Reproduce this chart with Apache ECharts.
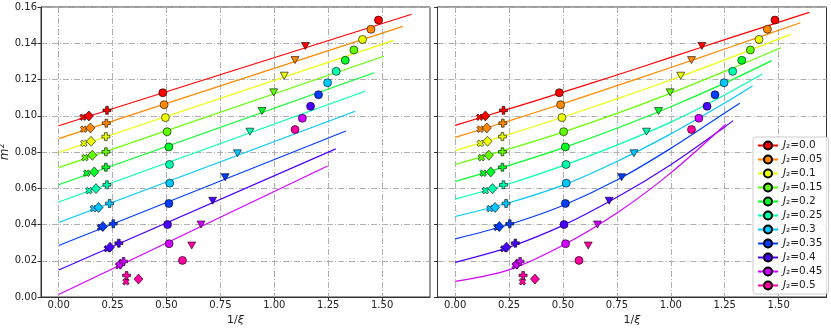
<!DOCTYPE html>
<html>
<head>
<meta charset="utf-8">
<script src="https://cdn.jsdelivr.net/npm/echarts@6/dist/echarts.min.js"></script>
<style>
html, body { margin: 0; padding: 0; background: #fff; }
#chart { width: 831px; height: 328px; }
</style>
</head>
<body>
<div id="chart"></div>
<script>
// J2 values and hsv colours
var j2 = ['0.0', '0.05', '0.1', '0.15', '0.2', '0.25', '0.3', '0.35', '0.4', '0.45', '0.5'];
var colors = ['#ff0000', '#ff8900', '#ecff00', '#63ff00', '#00ff26', '#00ffae',
              '#00c7ff', '#003dff', '#4b00ff', '#d400ff', '#ff00a1'];

// markers (1/xi, m^2), one entry per J2
var crossX = [0.113, 0.116, 0.117, 0.122, 0.130, 0.140, 0.161, 0.194, 0.225, 0.278, 0.312];
var crossY = [0.0992, 0.0926, 0.0848, 0.0769, 0.0683, 0.0587, 0.0488, 0.0384, 0.0266, 0.0172, 0.0084];
var diamX = [0.140, 0.147, 0.150, 0.156, 0.165, 0.173, 0.185, 0.205, 0.238, 0.286, 0.370];
var diamY = [0.0999, 0.0933, 0.0859, 0.0782, 0.0690, 0.0598, 0.0494, 0.0389, 0.0275, 0.0182, 0.0099];
var plusX = [0.224, 0.221, 0.219, 0.219, 0.219, 0.224, 0.236, 0.253, 0.279, 0.301, 0.315];
var plusY = [0.1030, 0.0959, 0.0885, 0.0801, 0.0716, 0.0619, 0.0516, 0.0404, 0.0297, 0.0196, 0.0119];
var circX = [0.483, 0.489, 0.495, 0.503, 0.511, 0.514, 0.515, 0.511, 0.505, 0.512, 0.574];
var circY = [0.1127, 0.1061, 0.0990, 0.0912, 0.0828, 0.0731, 0.0628, 0.0516, 0.0400, 0.0294, 0.0202];
var triX = [1.144, 1.096, 1.046, 0.997, 0.943, 0.887, 0.829, 0.772, 0.714, 0.660, 0.617];
var triY = [0.1385, 0.1307, 0.1221, 0.1129, 0.1026, 0.0912, 0.0793, 0.0661, 0.0531, 0.0400, 0.0284];
var farX = [1.483, 1.448, 1.409, 1.369, 1.329, 1.287, 1.247, 1.205, 1.168, 1.130, 1.096];
var farY = [0.1528, 0.1477, 0.1421, 0.1363, 0.1306, 0.1245, 0.1182, 0.1116, 0.1052, 0.0986, 0.0924];

// left panel: straight fits (J2 = 0 .. 0.45)
var lineEndX = [1.637, 1.596, 1.554, 1.508, 1.463, 1.421, 1.375, 1.332, 1.285, 1.247];
var leftY0 = [0.0945, 0.0874, 0.0797, 0.0714, 0.0619, 0.0524, 0.0411, 0.0284, 0.0149, 0.0014];
var leftY1 = [0.1560, 0.1493, 0.1416, 0.1328, 0.1237, 0.1135, 0.1025, 0.0916, 0.0817, 0.0723];

// right panel: curved fits read at these x, then the end point
var curveX = [0, 0.25, 0.5, 0.75, 1.0, 1.25];
var curveY = [
  [0.0947, 0.1038, 0.1130, 0.1225, 0.1322, 0.1420],
  [0.0881, 0.0972, 0.1067, 0.1166, 0.1266, 0.1368],
  [0.0808, 0.0897, 0.0993, 0.1093, 0.1197, 0.1308],
  [0.0731, 0.0817, 0.0910, 0.1013, 0.1125, 0.1245],
  [0.0637, 0.0726, 0.0823, 0.0931, 0.1050, 0.1180],
  [0.0540, 0.0625, 0.0725, 0.0838, 0.0965, 0.1115],
  [0.0444, 0.0520, 0.0617, 0.0748, 0.0900, 0.1070],
  [0.0321, 0.0400, 0.0505, 0.0645, 0.0820, 0.1015],
  [0.0191, 0.0275, 0.0395, 0.0550, 0.0730, 0.0938],
  [0.0086, 0.0150, 0.0285, 0.0463, 0.0685, 0.0948]
];
var curveEndX = [1.642, 1.601, 1.557, 1.511, 1.468, 1.424, 1.379, 1.320, 1.289, 1.255];
var curveEndY = [0.1570, 0.1513, 0.1449, 0.1375, 0.1304, 0.1230, 0.1164, 0.1069, 0.0973, 0.0953];

var xTicks = [0, 0.25, 0.5, 0.75, 1.0, 1.25, 1.5];

var plusPath = 'path://M2,0 L4,0 L4,2 L6,2 L6,4 L4,4 L4,6 L2,6 L2,4 L0,4 L0,2 L2,2 Z';
var font = 'DejaVu Sans';
var gridStyle = { color: '#b0b0b0', width: 1, type: [6, 2, 1, 2] };

function xAxisFor(g) {
  return {
    type: 'value', gridIndex: g, min: -0.082, max: 1.722,
    name: '{n|1/}{i|ξ}', nameLocation: 'middle', nameGap: 11,
    nameTextStyle: { rich: {
      n: { fontFamily: font, fontSize: 11, color: '#222' },
      i: { fontFamily: font, fontSize: 11, color: '#222', fontStyle: 'italic' }
    } },
    axisLine: { show: true, onZero: false, lineStyle: { color: '#333', width: 1 } },
    axisTick: { show: true, length: 3.5, customValues: xTicks, lineStyle: { color: '#333' } },
    axisLabel: { customValues: xTicks, margin: 3, fontFamily: font, fontSize: 10, color: '#222',
      formatter: function (v) { return v.toFixed(2); } },
    splitLine: { show: true, lineStyle: gridStyle }
  };
}

function yAxisFor(g, labels) {
  var ax = {
    type: 'value', gridIndex: g, min: 0, max: 0.16, interval: 0.02,
    axisLine: { show: true, onZero: false, lineStyle: { color: '#333', width: 1 } },
    axisTick: { show: true, length: 3.5, lineStyle: { color: '#333' } },
    axisLabel: { show: labels, margin: 4, fontFamily: font, fontSize: 10, color: '#222',
      formatter: function (v) { return v.toFixed(2); } },
    splitLine: { show: true, lineStyle: gridStyle }
  };
  if (labels) {
    ax.name = '{i|m}{n|²}';
    ax.nameLocation = 'middle';
    ax.nameGap = 22;
    ax.nameTextStyle = { rich: {
      i: { fontFamily: font, fontSize: 12, color: '#222', fontStyle: 'italic' },
      n: { fontFamily: font, fontSize: 12, color: '#222' }
    } };
  }
  return ax;
}

function markerData(i) {
  return [
    { value: [crossX[i], crossY[i]], symbol: plusPath, symbolSize: 7, symbolRotate: 45 },
    { value: [diamX[i], diamY[i]], symbol: 'diamond', symbolSize: [9, 10] },
    { value: [plusX[i], plusY[i]], symbol: plusPath, symbolSize: 8 },
    { value: [circX[i], circY[i]], symbol: 'circle', symbolSize: 8 },
    { value: [triX[i], triY[i]], symbol: 'triangle', symbolSize: [8, 7], symbolRotate: 180 },
    { value: [farX[i], farY[i]], symbol: 'circle', symbolSize: 8 }
  ];
}

var series = [];
// legend-only series
for (var i = 0; i < j2.length; i++) {
  series.push({
    name: j2[i], type: 'line', xAxisIndex: 1, yAxisIndex: 1, data: [],
    symbol: 'circle', symbolSize: 8,
    itemStyle: { color: colors[i], borderColor: '#000', borderWidth: 0.7 },
    lineStyle: { color: colors[i], width: 1.5 }
  });
}
for (var i = 0; i < lineEndX.length; i++) {
  series.push({
    name: j2[i], type: 'line', xAxisIndex: 0, yAxisIndex: 0, z: 2,
    data: [[0, leftY0[i]], [lineEndX[i], leftY1[i]]],
    showSymbol: false, symbol: 'none', silent: true,
    lineStyle: { color: colors[i], width: 1.2 }
  });
  var pts = [];
  for (var k = 0; k < curveX.length; k++) {
    if (curveX[k] < curveEndX[i] - 0.03) pts.push([curveX[k], curveY[i][k]]);
  }
  pts.push([curveEndX[i], curveEndY[i]]);
  series.push({
    name: j2[i], type: 'line', xAxisIndex: 1, yAxisIndex: 1, z: 2,
    data: pts, smooth: 0.3,
    showSymbol: false, symbol: 'none', silent: true,
    lineStyle: { color: colors[i], width: 1.2 }
  });
}
for (var i = 0; i < j2.length; i++) {
  for (var g = 0; g < 2; g++) {
    series.push({
      name: j2[i], type: 'scatter', xAxisIndex: g, yAxisIndex: g, z: 3,
      data: markerData(i),
      itemStyle: { color: colors[i], borderColor: '#000', borderWidth: 0.6, opacity: 1 }
    });
  }
}

var chart = echarts.init(document.getElementById('chart'), null, { renderer: 'canvas' });
chart.setOption({
  animation: false,
  backgroundColor: '#fff',
  grid: [
    { left: 41, top: 7, width: 389, height: 290, show: true, borderColor: '#333', borderWidth: 1,
      outerBoundsMode: 'none', containLabel: false },
    { left: 437.5, top: 7, width: 389, height: 290, show: true, borderColor: '#333', borderWidth: 1,
      outerBoundsMode: 'none', containLabel: false }
  ],
  xAxis: [xAxisFor(0), xAxisFor(1)],
  yAxis: [yAxisFor(0, true), yAxisFor(1, false)],
  legend: {
    data: j2, orient: 'vertical', left: 753, top: 137,
    itemWidth: 20, itemHeight: 10, itemGap: 3,
    padding: [3, 6, 3, 4],
    backgroundColor: 'rgba(255,255,255,0.85)', borderColor: '#ccc', borderWidth: 1, borderRadius: 3,
    formatter: function (name) { return '{i|J}{n|₂=' + name + '}'; },
    textStyle: { rich: {
      i: { fontFamily: font, fontSize: 10.5, color: '#222', fontStyle: 'italic' },
      n: { fontFamily: font, fontSize: 10.5, color: '#222' }
    } }
  },
  series: series
});
</script>
</body>
</html>
